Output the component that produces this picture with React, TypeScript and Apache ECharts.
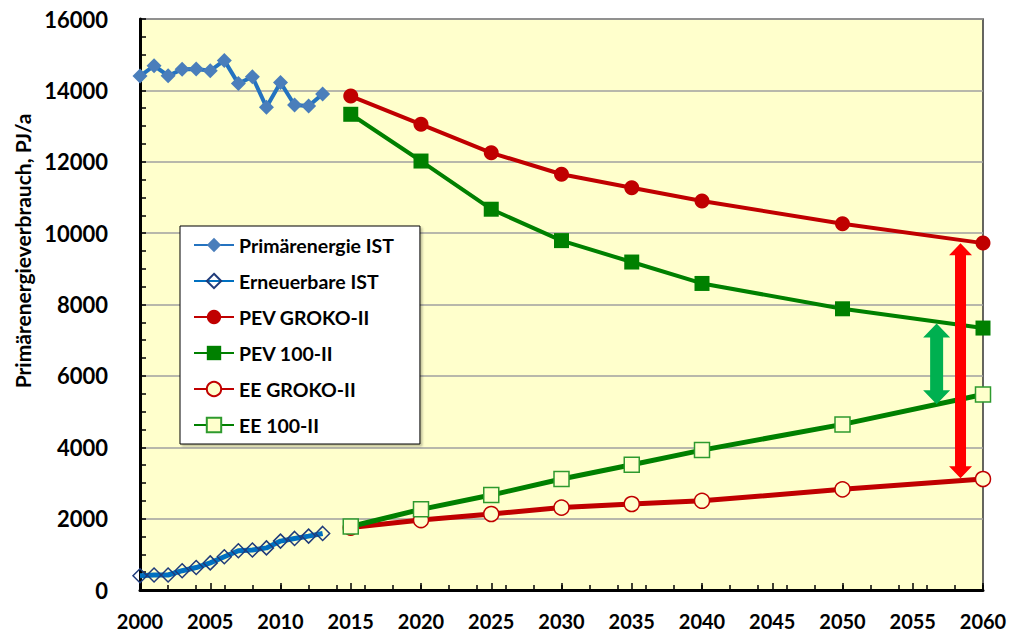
import React, { useEffect, useRef } from 'react';
import * as echarts from 'echarts';

const istYears = [2000, 2001, 2002, 2003, 2004, 2005, 2006, 2007, 2008, 2009, 2010, 2011, 2012, 2013];
const primaerIst = [14400, 14690, 14410, 14590, 14600, 14550, 14840, 14190, 14380, 13530, 14220, 13590, 13560, 13900];
const erneuerbarIst = [400, 420, 420, 540, 630, 760, 930, 1100, 1120, 1180, 1370, 1445, 1510, 1585];

const scenYears = [2015, 2020, 2025, 2030, 2035, 2040, 2050, 2060];
const pevGroko = [13840, 13050, 12250, 11650, 11270, 10900, 10260, 9720];
const pev100 = [13330, 12020, 10670, 9790, 9190, 8590, 7880, 7340];
const eeGroko = [1750, 1960, 2130, 2310, 2410, 2500, 2820, 3110];
const ee100 = [1780, 2260, 2660, 3110, 3510, 3920, 4640, 5480];

const seriesNames = ['Primärenergie IST', 'Erneuerbare IST', 'PEV GROKO-II', 'PEV 100-II', 'EE GROKO-II', 'EE 100-II'];
const yAxisTitle = 'Primärenergieverbrauch, PJ/a';

// annotation arrows: [year, top value, bottom value]
const redArrow = [2058.4, 9714, 3133];
const greenArrow = [2056.7, 7468, 5203];

const FONT = 'Lato';

export default function App() {
  const ref = useRef<HTMLDivElement>(null);

  useEffect(() => {
    const chart = echarts.init(ref.current!, null, { renderer: 'svg' });
    const pair = (xs: number[], ys: number[]) => xs.map((x, i) => [x, ys[i]]);

    const option: any = {
      animation: false,
      grid: {
        left: 140, right: 27, top: 19, bottom: 42,
        show: true, backgroundColor: '#FFFFCC', borderColor: '#333', borderWidth: 1.5,
      },
      xAxis: [
        {
          type: 'value', min: 2000, max: 2060, interval: 5, position: 'bottom',
          axisLine: { show: true, onZero: false, lineStyle: { color: '#000', width: 3 } },
          axisTick: { show: true, inside: true, length: 7, lineStyle: { color: '#000', width: 1.5 } },
          axisLabel: {
            color: '#000', fontFamily: FONT, fontWeight: 'bold', fontSize: 20, lineHeight: 18, margin: 22,
            formatter: (v: number) => String(v),
          },
          splitLine: { show: false },
        },
        {
          type: 'value', min: 2000, max: 2060, interval: 2, position: 'bottom', gridIndex: 0,
          axisLine: { show: false },
          axisTick: { show: true, inside: true, length: 5, lineStyle: { color: '#000', width: 1.5 } },
          axisLabel: { show: false },
          splitLine: { show: false },
        },
      ],
      yAxis: {
        type: 'value', min: 0, max: 16000, interval: 2000,
        axisLine: { show: true, lineStyle: { color: '#000', width: 3 } },
        axisTick: { show: true, inside: true, length: 6, lineStyle: { color: '#000', width: 1.5 } },
        minorTick: { show: true, splitNumber: 4, length: 6, lineStyle: { color: '#000', width: 1.5 } },
        axisLabel: {
          color: '#000', fontFamily: FONT, fontWeight: 'bold', fontSize: 22, margin: 32,
          formatter: (v: number) => String(v),
        },
        splitLine: { show: true, lineStyle: { color: '#A0A0A0', width: 1.5 } },
      },
      legend: {
        orient: 'vertical', left: 180, top: 226,
        itemWidth: 40, itemHeight: 18, itemGap: 16,
        padding: [9, 26, 9, 13],
        backgroundColor: '#fff', borderColor: '#000', borderWidth: 1,
        shadowBlur: 2, shadowColor: 'rgba(0,0,0,0.25)', shadowOffsetX: 2, shadowOffsetY: 2,
        textStyle: { fontFamily: FONT, fontWeight: 'bold', fontSize: 19.5, color: '#000', lineHeight: 18 },
        data: seriesNames,
      },
      series: [
        {
          name: seriesNames[0], type: 'line', data: pair(istYears, primaerIst),
          symbol: 'diamond', symbolSize: 15,
          lineStyle: { color: '#2473C0', width: 4 },
          itemStyle: { color: '#4A7EBB' },
        },
        {
          name: seriesNames[1], type: 'line', data: pair(istYears, erneuerbarIst),
          symbol: 'diamond', symbolSize: 14,
          lineStyle: { color: '#0070C0', width: 5 },
          itemStyle: { color: 'rgba(255,255,255,0)', borderColor: '#1F3B7A', borderWidth: 1.5 },
        },
        {
          name: seriesNames[2], type: 'line', data: pair(scenYears, pevGroko),
          symbol: 'circle', symbolSize: 15,
          lineStyle: { color: '#C00000', width: 4 },
          itemStyle: { color: '#C00000' },
        },
        {
          name: seriesNames[3], type: 'line', data: pair(scenYears, pev100),
          symbol: 'rect', symbolSize: 15,
          lineStyle: { color: '#008000', width: 4 },
          itemStyle: { color: '#008000' },
        },
        {
          name: seriesNames[4], type: 'line', data: pair(scenYears, eeGroko),
          symbol: 'circle', symbolSize: 15,
          lineStyle: { color: '#C00000', width: 5 },
          itemStyle: { color: '#FFFFCC', borderColor: '#C00000', borderWidth: 1.5 },
        },
        {
          name: seriesNames[5], type: 'line', data: pair(scenYears, ee100),
          symbol: 'rect', symbolSize: 15,
          lineStyle: { color: '#008000', width: 5 },
          itemStyle: { color: '#FFFFCC', borderColor: '#2E9A2E', borderWidth: 1.5 },
        },
      ],
    };

    chart.setOption(option);

    const arrowPoly = (a: number[], shaft: number, head: number, headLen: number) => {
      const pTop = chart.convertToPixel({ xAxisIndex: 0, yAxisIndex: 0 }, [a[0], a[1]]) as number[];
      const pBot = chart.convertToPixel({ xAxisIndex: 0, yAxisIndex: 0 }, [a[0], a[2]]) as number[];
      const x = pTop[0];
      const yT = pTop[1];
      const yB = pBot[1];
      return [
        [x, yT], [x + head / 2, yT + headLen], [x + shaft / 2, yT + headLen],
        [x + shaft / 2, yB - headLen], [x + head / 2, yB - headLen], [x, yB],
        [x - head / 2, yB - headLen], [x - shaft / 2, yB - headLen],
        [x - shaft / 2, yT + headLen], [x - head / 2, yT + headLen],
      ];
    };

    chart.setOption({
      graphic: [
        {
          type: 'text', x: 22, y: 251, rotation: Math.PI / 2,
          style: {
            text: yAxisTitle, fontFamily: FONT, fontWeight: 'bold', fontSize: 21, fill: '#000',
            textAlign: 'center', textVerticalAlign: 'middle',
          },
        },
        {
          type: 'polygon', z: 100,
          shape: { points: arrowPoly(greenArrow, 13, 27, 14) },
          style: { fill: '#00B050' },
        },
        {
          type: 'polygon', z: 101,
          shape: { points: arrowPoly(redArrow, 11, 23, 12) },
          style: { fill: '#FF0000' },
        },
      ],
    });

    return () => chart.dispose();
  }, []);

  return (
    <div
      ref={ref}
      style={{ position: 'fixed', left: 0, top: 0, width: 1010, height: 632, background: '#fff' }}
    />
  );
}
